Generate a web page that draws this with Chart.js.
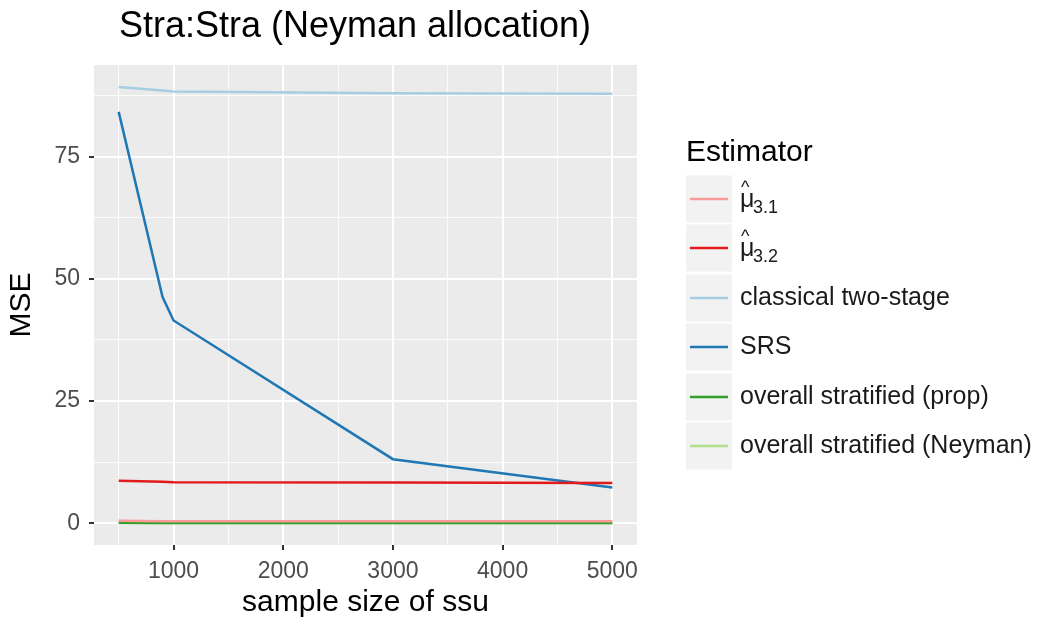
<!DOCTYPE html>
<html><head><meta charset="utf-8">
<script src="https://cdn.jsdelivr.net/npm/chart.js@4/dist/chart.umd.min.js"></script>
<style>html,body{margin:0;padding:0;background:#fff}#wrap{width:1038px;height:624px}</style>
</head><body><div id="wrap"><canvas id="c" width="1038" height="624"></canvas></div>
<script>
const sampleSizes = [500, 900, 1000, 3000, 5000];
const mu31 = [0.5, 0.4, 0.4, 0.4, 0.4];
const mu32 = [8.7, 8.5, 8.4, 8.3, 8.2];
const classical = [89.3, 88.6, 88.4, 88.0, 87.9];
const srs = [84.2, 46.3, 41.5, 13.1, 7.3];
const stratProp = [0.1, 0.05, 0.05, 0.02, 0.02];
const stratNeyman = [0.1, 0.05, 0.05, 0.02, 0.02];
const seriesNames = ["mu31", "mu32", "classical two-stage", "SRS", "overall stratified (prop)", "overall stratified (Neyman)"];
const seriesColors = ["#FB9A99", "#E31A1C", "#A6CEE3", "#1F78B4", "#33A02C", "#B2DF8A"];
const xTickLabels = [1000, 2000, 3000, 4000, 5000];
const yTickLabels = [0, 25, 50, 75];

const FONT = '"Liberation Sans", Arial, sans-serif';
const allSeries = [mu31, mu32, classical, srs, stratProp, stratNeyman];
const datasets = allSeries.map((s, i) => ({
  label: seriesNames[i],
  data: s.map((v, j) => ({x: sampleSizes[j], y: v})),
  borderColor: seriesColors[i],
  borderWidth: 2.5,
  pointRadius: 0,
  fill: false,
  tension: 0
}));
const bgPlugin = {
  id: 'bg',
  beforeDraw(chart) {
    const {ctx, chartArea: a} = chart;
    ctx.save();
    ctx.fillStyle = '#EBEBEB';
    ctx.fillRect(a.left, a.top, a.right - a.left, a.bottom - a.top);
    ctx.restore();
  },
  afterDraw(chart) {
    const ctx = chart.ctx;
    ctx.save();
    ctx.fillStyle = '#000';
    ctx.font = '36px ' + FONT;
    ctx.textAlign = 'center';
    ctx.textBaseline = 'middle';
    ctx.fillText('Stra:Stra (Neyman allocation)', 355, 27);
    // legend
    ctx.textAlign = 'left';
    ctx.font = '30px ' + FONT;
    ctx.fillText('Estimator', 686, 153);
    const rows = [199, 248, 298, 347, 397, 446];
    rows.forEach((cy, i) => {
      ctx.fillStyle = '#F2F2F2';
      ctx.fillRect(686, cy - 23.5, 46, 47);
      ctx.strokeStyle = seriesColors[i];
      ctx.lineWidth = 2.5;
      ctx.beginPath();
      ctx.moveTo(690, cy);
      ctx.lineTo(728, cy);
      ctx.stroke();
      ctx.fillStyle = '#1A1A1A';
      ctx.textBaseline = 'middle';
      if (i < 2) {
        ctx.font = '25px ' + FONT;
        ctx.fillText('\u03BC', 740, cy + 1);
        ctx.font = '18px ' + FONT;
        ctx.fillText('^', 741, cy - 11);
        ctx.fillText(i === 0 ? '3.1' : '3.2', 753, cy + 9);
      } else {
        ctx.font = '25px ' + FONT;
        ctx.fillText(seriesNames[i], 740, cy);
      }
    });
    ctx.restore();
  }
};

new Chart(document.getElementById('c'), {
  type: 'line',
  data: {datasets},
  plugins: [bgPlugin],
  options: {
    responsive: false,
    animation: false,
    layout: {padding: {left: 0, top: 65, right: 401, bottom: 0}},
    plugins: {legend: {display: false}, tooltip: {enabled: false}, title: {display: false}},
    scales: {
      x: {
        type: 'linear',
        min: 275, max: 5225,
        afterFit(s) { s.height = 79; },
        afterBuildTicks(s) {
          const t = [];
          for (let v = 500; v <= 5000; v += 500) t.push({value: v});
          s.ticks = t;
        },
        border: {display: false},
        grid: {
          color: c => (c.tick && c.tick.value % 1000 === 0) ? '#FFFFFF' : 'rgba(255,255,255,0.8)',
          lineWidth: c => (c.tick && c.tick.value % 1000 === 0) ? 2 : 1,
          tickColor: c => (c.tick && xTickLabels.includes(c.tick.value)) ? '#333333' : 'rgba(0,0,0,0)',
          tickLength: 5,
          drawTicks: true
        },
        ticks: {
          autoSkip: false,
          maxRotation: 0,
          padding: 8,
          color: '#4D4D4D',
          font: {size: 23, family: FONT},
          callback: v => xTickLabels.includes(v) ? String(v) : ''
        },
        title: {display: true, text: 'sample size of ssu', color: '#000', padding: {top: 0, bottom: 3},
          font: {size: 30, family: FONT}}
      },
      y: {
        type: 'linear',
        min: -4.47, max: 93.8,
        afterFit(s) { s.width = 94; },
        afterBuildTicks(s) {
          const t = [];
          for (let v = 0; v <= 87.5; v += 12.5) t.push({value: v});
          s.ticks = t;
        },
        border: {display: false},
        grid: {
          color: c => (c.tick && c.tick.value % 25 === 0) ? '#FFFFFF' : 'rgba(255,255,255,0.8)',
          lineWidth: c => (c.tick && c.tick.value % 25 === 0) ? 2 : 1,
          tickColor: c => (c.tick && yTickLabels.includes(c.tick.value)) ? '#333333' : 'rgba(0,0,0,0)',
          tickLength: 5,
          drawTicks: true
        },
        ticks: {
          autoSkip: false,
          padding: 9,
          color: '#4D4D4D',
          font: {size: 23, family: FONT},
          callback: v => yTickLabels.includes(v) ? String(v) : ''
        },
        title: {display: true, text: 'MSE', color: '#000', padding: {top: 4, bottom: 0},
          font: {size: 30, family: FONT}}
      }
    }
  }
});
</script></body></html>
